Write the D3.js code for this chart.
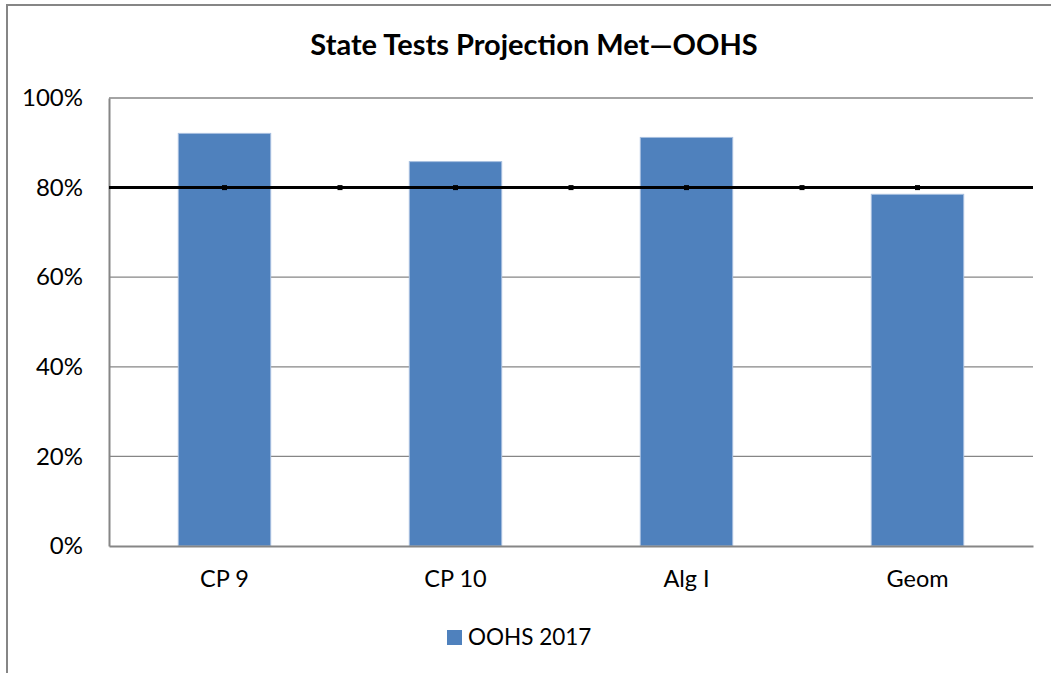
<!DOCTYPE html>
<html>
<head>
<meta charset="utf-8">
<script src="https://cdn.jsdelivr.net/npm/d3@7"></script>
<style>
  body { margin: 0; background: #fff; }
  svg { display: block; font-family: Lato, "Open Sans", sans-serif; }
</style>
</head>
<body>
<script>
// chart data
var categories = ['CP 9', 'CP 10', 'Alg I', 'Geom'];
var oohs2017 = [0.921, 0.858, 0.912, 0.785];
var targetLine = [0.8, 0.8, 0.8, 0.8, 0.8, 0.8, 0.8];
var yTicks = [0, 0.2, 0.4, 0.6, 0.8, 1.0];
var seriesName = 'OOHS 2017';
var title = 'State Tests Projection Met\u2014OOHS';

var width = 1051, height = 673;
var margin = {top: 98, right: 18, bottom: 127, left: 109};
var plotW = width - margin.left - margin.right;
var plotH = height - margin.top - margin.bottom;

var svg = d3.select('body').append('svg').attr('width', width).attr('height', height);

// outer chart border
svg.append('rect')
  .attr('x', 7).attr('y', 5)
  .attr('width', width + 10).attr('height', height + 10)
  .attr('fill', 'none').attr('stroke', '#868686').attr('stroke-width', 2);

svg.append('text')
  .attr('x', 534).attr('y', 55)
  .attr('text-anchor', 'middle')
  .attr('font-size', 29).attr('font-weight', 'bold')
  .text(title);

var g = svg.append('g').attr('transform', 'translate(' + margin.left + ',' + margin.top + ')');

var x = d3.scaleBand().domain(categories).range([0, plotW]).paddingInner(0.6).paddingOuter(0.3);
var y = d3.scaleLinear().domain([0, 1]).range([plotH, 0]);
var xLine = d3.scaleLinear().domain([0, targetLine.length + 1]).range([0, plotW]);

// gridlines
g.selectAll('.grid').data(yTicks.slice(1)).enter().append('line')
  .attr('x1', 0).attr('x2', plotW)
  .attr('y1', function(d) { return y(d); }).attr('y2', function(d) { return y(d); })
  .attr('stroke', '#868686').attr('stroke-width', 1.3);

// y axis
var yAxis = g.append('g').call(d3.axisLeft(y).tickValues(yTicks).tickFormat(d3.format('.0%')).tickSize(0).tickPadding(26));
yAxis.select('.domain').attr('stroke', '#868686').attr('stroke-width', 2);
yAxis.selectAll('text').attr('font-size', 24).attr('fill', '#000').attr('font-family', 'Lato, sans-serif');

// bars
g.selectAll('.bar').data(oohs2017).enter().append('rect')
  .attr('x', function(d, i) { return x(categories[i]); })
  .attr('width', x.bandwidth())
  .attr('y', function(d) { return y(d); })
  .attr('height', function(d) { return plotH - y(d); })
  .attr('fill', '#4f81bd')
  .attr('stroke', '#a7bfdf').attr('stroke-width', 1);

// x axis
var xAxis = g.append('g').attr('transform', 'translate(0,' + plotH + ')')
  .call(d3.axisBottom(x).tickSize(0).tickPadding(24));
xAxis.select('.domain').attr('stroke', '#868686').attr('stroke-width', 2);
xAxis.selectAll('text').attr('font-size', 23.5).attr('fill', '#000').attr('font-family', 'Lato, sans-serif');

// 80% target line
g.append('line')
  .attr('x1', 0).attr('x2', plotW)
  .attr('y1', y(targetLine[0])).attr('y2', y(targetLine[0]))
  .attr('stroke', '#000').attr('stroke-width', 3);
g.selectAll('.marker').data(targetLine).enter().append('rect')
  .attr('x', function(d, i) { return xLine(i + 1) - 2.5; })
  .attr('y', function(d) { return y(d) - 2.5; })
  .attr('width', 5).attr('height', 5)
  .attr('fill', '#000');

// legend
var legend = svg.append('g').attr('transform', 'translate(447,630)');
legend.append('rect').attr('width', 15).attr('height', 15).attr('fill', '#4f81bd');
legend.append('text').attr('x', 21).attr('y', 15).attr('font-size', 22.5).text(seriesName);
</script>
</body>
</html>
